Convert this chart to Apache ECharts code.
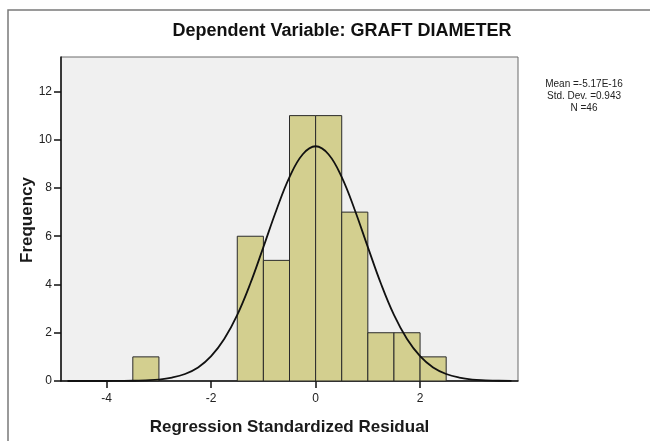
<!DOCTYPE html>
<html>
<head>
<meta charset="utf-8">
<script src="https://cdn.jsdelivr.net/npm/echarts@6/dist/echarts.min.js"></script>
<style>
  html, body { margin: 0; padding: 0; background: #fff; }
  #chart { width: 650px; height: 441px; }
</style>
</head>
<body>
<div id="chart"></div>
<script>
// histogram bins (left edges), width 0.5
const binStarts = [-3.5, -1.5, -1, -0.5, 0, 0.5, 1, 1.5, 2];
const binCounts = [1, 6, 5, 11, 11, 7, 2, 2, 1];
const binWidth = 0.5;

// normal curve
const curveX = [-4.75, -4.5, -4.25, -4, -3.75, -3.5, -3.25, -3, -2.75, -2.5, -2.25, -2, -1.75, -1.5, -1.25, -1, -0.75, -0.5, -0.25,
  0, 0.25, 0.5, 0.75, 1, 1.25, 1.5, 1.75, 2, 2.25, 2.5, 2.75, 3, 3.25, 3.5, 3.75];
const curveY = [0, 0, 0, 0, 0.004, 0.01, 0.03, 0.06, 0.14, 0.29, 0.56, 1.03, 1.74, 2.74, 4.04, 5.55, 7.09, 8.45, 9.39,
  9.73, 9.39, 8.45, 7.09, 5.55, 4.04, 2.74, 1.74, 1.03, 0.56, 0.29, 0.14, 0.06, 0.03, 0.01, 0.004];

const xTicks = [-4, -2, 0, 2];
const yTicks = [0, 2, 4, 6, 8, 10, 12];
const statsLines = ['Mean =-5.17E-16', 'Std. Dev. =0.943', 'N =46'];

const chart = echarts.init(document.getElementById('chart'), null, { renderer: 'canvas' });

const FONT = 'Arial, "Liberation Sans", sans-serif';

chart.setOption({
  animation: false,
  grid: {
    left: 61, top: 57, right: 132, bottom: 58,
    show: true,
    backgroundColor: '#f0f0f0',
    borderColor: '#6a6a6a',
    borderWidth: 1
  },
  xAxis: {
    type: 'value',
    min: -4.875,
    max: 3.875,
    name: 'Regression Standardized Residual',
    nameLocation: 'middle',
    nameGap: 38,
    nameTextStyle: { fontFamily: FONT, fontSize: 17, fontWeight: 'bold', color: '#1a1a1a' },
    axisLine: { onZero: false, lineStyle: { color: '#111', width: 1.5 } },
    axisTick: { show: true, customValues: xTicks, length: 7, lineStyle: { color: '#111', width: 1.5 } },
    axisLabel: { customValues: xTicks, color: '#222', fontFamily: FONT, fontSize: 12, margin: 12 },
    splitLine: { show: false }
  },
  yAxis: {
    type: 'value',
    min: 0,
    max: 13.43,
    axisLine: { show: true, onZero: false, lineStyle: { color: '#111', width: 1.5 } },
    axisTick: { show: true, customValues: yTicks, length: 7, lineStyle: { color: '#111', width: 1.5 } },
    axisLabel: { customValues: yTicks, color: '#222', fontFamily: FONT, fontSize: 12, margin: 9 },
    splitLine: { show: false }
  },
  series: [
    {
      type: 'custom',
      data: binStarts.map((s, i) => [s, s + binWidth, binCounts[i]]),
      renderItem: (params, api) => {
        const p0 = api.coord([api.value(0), api.value(2)]);
        const p1 = api.coord([api.value(1), 0]);
        return {
          type: 'rect',
          shape: { x: p0[0], y: p0[1], width: p1[0] - p0[0], height: p1[1] - p0[1] },
          style: { fill: '#d3cf8f', stroke: '#2a2a2a', lineWidth: 1 }
        };
      },
      z: 2
    },
    {
      type: 'line',
      data: curveX.map((x, i) => [x, curveY[i]]),
      smooth: 0.4,
      showSymbol: false,
      lineStyle: { color: '#111', width: 1.8 },
      clip: true,
      z: 3
    }
  ],
  graphic: [
    {
      type: 'rect',
      shape: { x: 8, y: 10, width: 700, height: 500 },
      style: { fill: 'none', stroke: '#7a7a7a', lineWidth: 1.5 },
      silent: true
    },
    {
      type: 'text',
      x: 342, y: 31,
      style: {
        text: 'Dependent Variable: GRAFT DIAMETER',
        font: 'bold 18px ' + FONT,
        fill: '#111',
        align: 'center',
        verticalAlign: 'middle'
      }
    },
    {
      type: 'text',
      x: 27, y: 220,
      rotation: Math.PI / 2,
      style: {
        text: 'Frequency',
        font: 'bold 17px ' + FONT,
        fill: '#1a1a1a',
        align: 'center',
        verticalAlign: 'middle'
      }
    },
    {
      type: 'text',
      x: 584, y: 78,
      style: {
        text: statsLines.join('\n'),
        font: '10px ' + FONT,
        lineHeight: 12,
        fill: '#222',
        align: 'center'
      }
    }
  ]
});
</script>
</body>
</html>
